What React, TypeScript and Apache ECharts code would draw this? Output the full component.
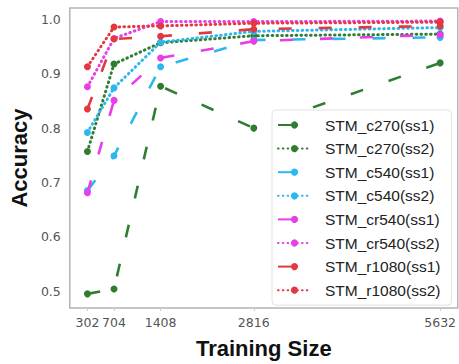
import React, { useEffect, useRef } from "react";
import * as echarts from "echarts";

const trainingSizes = [302, 704, 1408, 2816, 5632];
const yTicks = [0.5, 0.6, 0.7, 0.8, 0.9, 1.0];

const c270_ss1 = [0.495, 0.504, 0.877, 0.8, 0.92];
const c270_ss2 = [0.757, 0.918, 0.957, 0.97, 0.973];
const c540_ss1 = [0.685, 0.749, 0.913, 0.962, 0.967];
const c540_ss2 = [0.792, 0.874, 0.958, 0.978, 0.985];
const cr540_ss1 = [0.681, 0.851, 0.929, 0.96, 0.972];
const cr540_ss2 = [0.876, 0.965, 0.996, 0.996, 0.997];
const r1080_ss1 = [0.835, 0.964, 0.969, 0.982, 0.988];
const r1080_ss2 = [0.913, 0.986, 0.988, 0.993, 0.995];

const seriesNames = [
  "STM_c270(ss1)",
  "STM_c270(ss2)",
  "STM_c540(ss1)",
  "STM_c540(ss2)",
  "STM_cr540(ss1)",
  "STM_cr540(ss2)",
  "STM_r1080(ss1)",
  "STM_r1080(ss2)",
];
const seriesValues = [c270_ss1, c270_ss2, c540_ss1, c540_ss2, cr540_ss1, cr540_ss2, r1080_ss1, r1080_ss2];
const seriesColors = ["#2f7d31", "#2f7d31", "#2cb7ee", "#2cb7ee", "#e83de8", "#e83de8", "#e2383f", "#e2383f"];

export default function App() {
  const ref = useRef<HTMLDivElement>(null);
  useEffect(() => {
    if (!ref.current) return;
    const chart = echarts.init(ref.current, null, { renderer: "svg", width: 459, height: 364 });
    const series = seriesNames.map((name, i) => {
      const dotted = i % 2 === 1;
      return {
        name,
        type: "line",
        data: trainingSizes.map((x, j) => [x, seriesValues[i][j]]),
        symbol: "circle",
        symbolSize: 7,
        showSymbol: true,
        z: 2 + i,
        itemStyle: { color: seriesColors[i] },
        lineStyle: {
          color: seriesColors[i],
          width: dotted ? 3 : 2.6,
          type: dotted ? [0.6, 4.2] : [13, 27],
          cap: dotted ? "round" : "butt",
        },
      };
    });
    chart.setOption({
      animation: false,
      backgroundColor: "#ffffff",
      grid: {
        left: 69,
        top: 8,
        right: -1,
        bottom: 51,
        show: true,
        borderColor: "#b4b4b4",
        borderWidth: 1.5,
        backgroundColor: "transparent",
      },
      xAxis: {
        type: "value",
        min: 35.5,
        max: 5898.5,
        splitLine: { show: false },
        axisLine: { show: false },
        axisTick: { show: true, customValues: trainingSizes, length: 3, lineStyle: { color: "#cccccc" } },
        axisLabel: {
          customValues: trainingSizes,
          formatter: (v: number) => String(v),
          fontFamily: "DejaVu Sans",
          fontSize: 12.5,
          color: "#555555",
          margin: 8,
        },
        name: "Training Size",
        nameLocation: "middle",
        nameGap: 29,
        nameTextStyle: { fontFamily: "Liberation Sans", fontWeight: "bold", fontSize: 22, color: "#111111" },
      },
      yAxis: {
        type: "value",
        min: 0.469,
        max: 1.021,
        splitLine: { show: false },
        axisLine: { show: false },
        axisTick: { show: false },
        axisLabel: {
          customValues: yTicks,
          formatter: (v: number) => v.toFixed(1),
          fontFamily: "DejaVu Sans",
          fontSize: 12.5,
          color: "#555555",
          margin: 9,
        },
        name: "Accuracy",
        nameLocation: "middle",
        nameRotate: 90,
        nameGap: 35,
        nameTextStyle: { fontFamily: "Liberation Sans", fontWeight: "bold", fontSize: 22, color: "#111111" },
      },
      legend: {
        orient: "vertical",
        left: 272,
        top: 110,
        data: seriesNames,
        backgroundColor: "#ffffff",
        borderColor: "#e2e2e2",
        borderWidth: 1,
        borderRadius: 4,
        padding: [7, 11, 7, 5],
        itemWidth: 33,
        itemHeight: 9,
        itemGap: 7.6,
        textStyle: {
          fontFamily: "Liberation Sans",
          fontSize: 15.5,
          lineHeight: 15.5,
          color: "#222222",
          padding: [0, 0, 0, 9],
        },
      },
      series,
    });
    return () => chart.dispose();
  }, []);
  return <div ref={ref} style={{ position: "fixed", left: 0, top: 0, width: 459, height: 364 }} />;
}
